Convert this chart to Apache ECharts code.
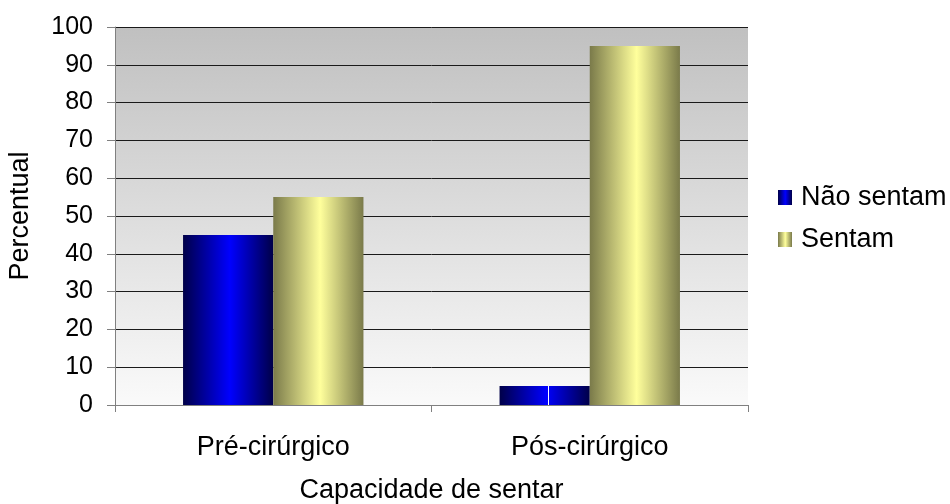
<!DOCTYPE html>
<html><head><meta charset="utf-8">
<script src="https://cdn.jsdelivr.net/npm/echarts@6/dist/echarts.min.js"></script>
<style>html,body{margin:0;padding:0;background:#fff}#c{width:950px;height:504px}</style>
</head><body><div id="c"></div>
<script>
const categories = ['Pré-cirúrgico', 'Pós-cirúrgico'];
const naoSentam = [45, 5];
const sentam = [55, 95];
const yTicks = [0, 10, 20, 30, 40, 50, 60, 70, 80, 90, 100];

const FONT = 'Liberation Sans, Arial, sans-serif';
const blueGrad = new echarts.graphic.LinearGradient(0, 0, 1, 0, [
  {offset: 0, color: '#000048'},
  {offset: 0.52, color: '#0000ff'},
  {offset: 1, color: '#000048'}
]);
const blueGradLine = new echarts.graphic.LinearGradient(0, 0, 1, 0, [
  {offset: 0, color: '#000048'},
  {offset: 0.52, color: '#0000ff'},
  {offset: 0.535, color: '#0000ff'},
  {offset: 0.536, color: '#ffffff'},
  {offset: 0.55, color: '#ffffff'},
  {offset: 0.551, color: '#0000f0'},
  {offset: 1, color: '#000048'}
]);
const yellowGrad = new echarts.graphic.LinearGradient(0, 0, 1, 0, [
  {offset: 0, color: '#7a7a4a'},
  {offset: 0.52, color: '#ffff9c'},
  {offset: 1, color: '#7a7a4a'}
]);
const chart = echarts.init(document.getElementById('c'), null, {renderer: 'canvas'});
chart.setOption({
  animation: false,
  backgroundColor: '#ffffff',
  textStyle: {fontFamily: FONT},
  grid: {left: 115, right: 202, top: 27, bottom: 99, show: true, borderWidth: 0,
    containLabel: false, outerBoundsMode: 'none',
    backgroundColor: new echarts.graphic.LinearGradient(0, 0, 0, 1, [
      {offset: 0, color: '#c0c0c0'},
      {offset: 1, color: '#fafafa'}
    ])},
  legend: {
    orient: 'vertical', left: 778, top: 184, itemGap: 15, padding: 0,
    itemWidth: 14, itemHeight: 15, icon: 'rect',
    textStyle: {fontSize: 27, lineHeight: 26, color: '#000', fontFamily: FONT, padding: [0, 0, 0, 4]},
    data: [
      {name: 'Não sentam', itemStyle: {color: blueGrad}},
      {name: 'Sentam', itemStyle: {color: yellowGrad}}
    ]
  },
  xAxis: {
    type: 'category', data: categories,
    name: 'Capacidade de sentar', nameLocation: 'middle', nameGap: 72,
    nameTextStyle: {fontSize: 27, color: '#000', fontFamily: FONT},
    axisLine: {lineStyle: {color: '#808080', width: 1}},
    axisTick: {show: true, length: 7, lineStyle: {color: '#808080'}},
    axisLabel: {fontSize: 27, color: '#000', margin: 29, fontFamily: FONT}
  },
  yAxis: {
    type: 'value', min: 0, max: 100, interval: 10,
    name: 'Percentual', nameLocation: 'middle', nameGap: 81,
    nameTextStyle: {fontSize: 27, color: '#000', fontFamily: FONT},
    axisLine: {show: true, lineStyle: {color: '#808080', width: 1}},
    axisTick: {show: true, length: 8, lineStyle: {color: '#808080'}},
    axisLabel: {fontSize: 25, color: '#000', margin: 22, fontFamily: FONT,
      formatter: v => yTicks.includes(v) ? String(v) : ''},
    splitLine: {show: true, lineStyle: {color: '#1a1a1a', width: 1}}
  },
  series: [
    {name: 'Não sentam', type: 'bar', barGap: '0%', barCategoryGap: '43%',
      data: naoSentam.map((v, i) => ({value: v, itemStyle: {color: i === 1 ? blueGradLine : blueGrad}})),
      itemStyle: {color: blueGrad}},
    {name: 'Sentam', type: 'bar', data: sentam, barGap: '0%', barCategoryGap: '43%',
      itemStyle: {color: yellowGrad}}
  ]
});
</script></body></html>
